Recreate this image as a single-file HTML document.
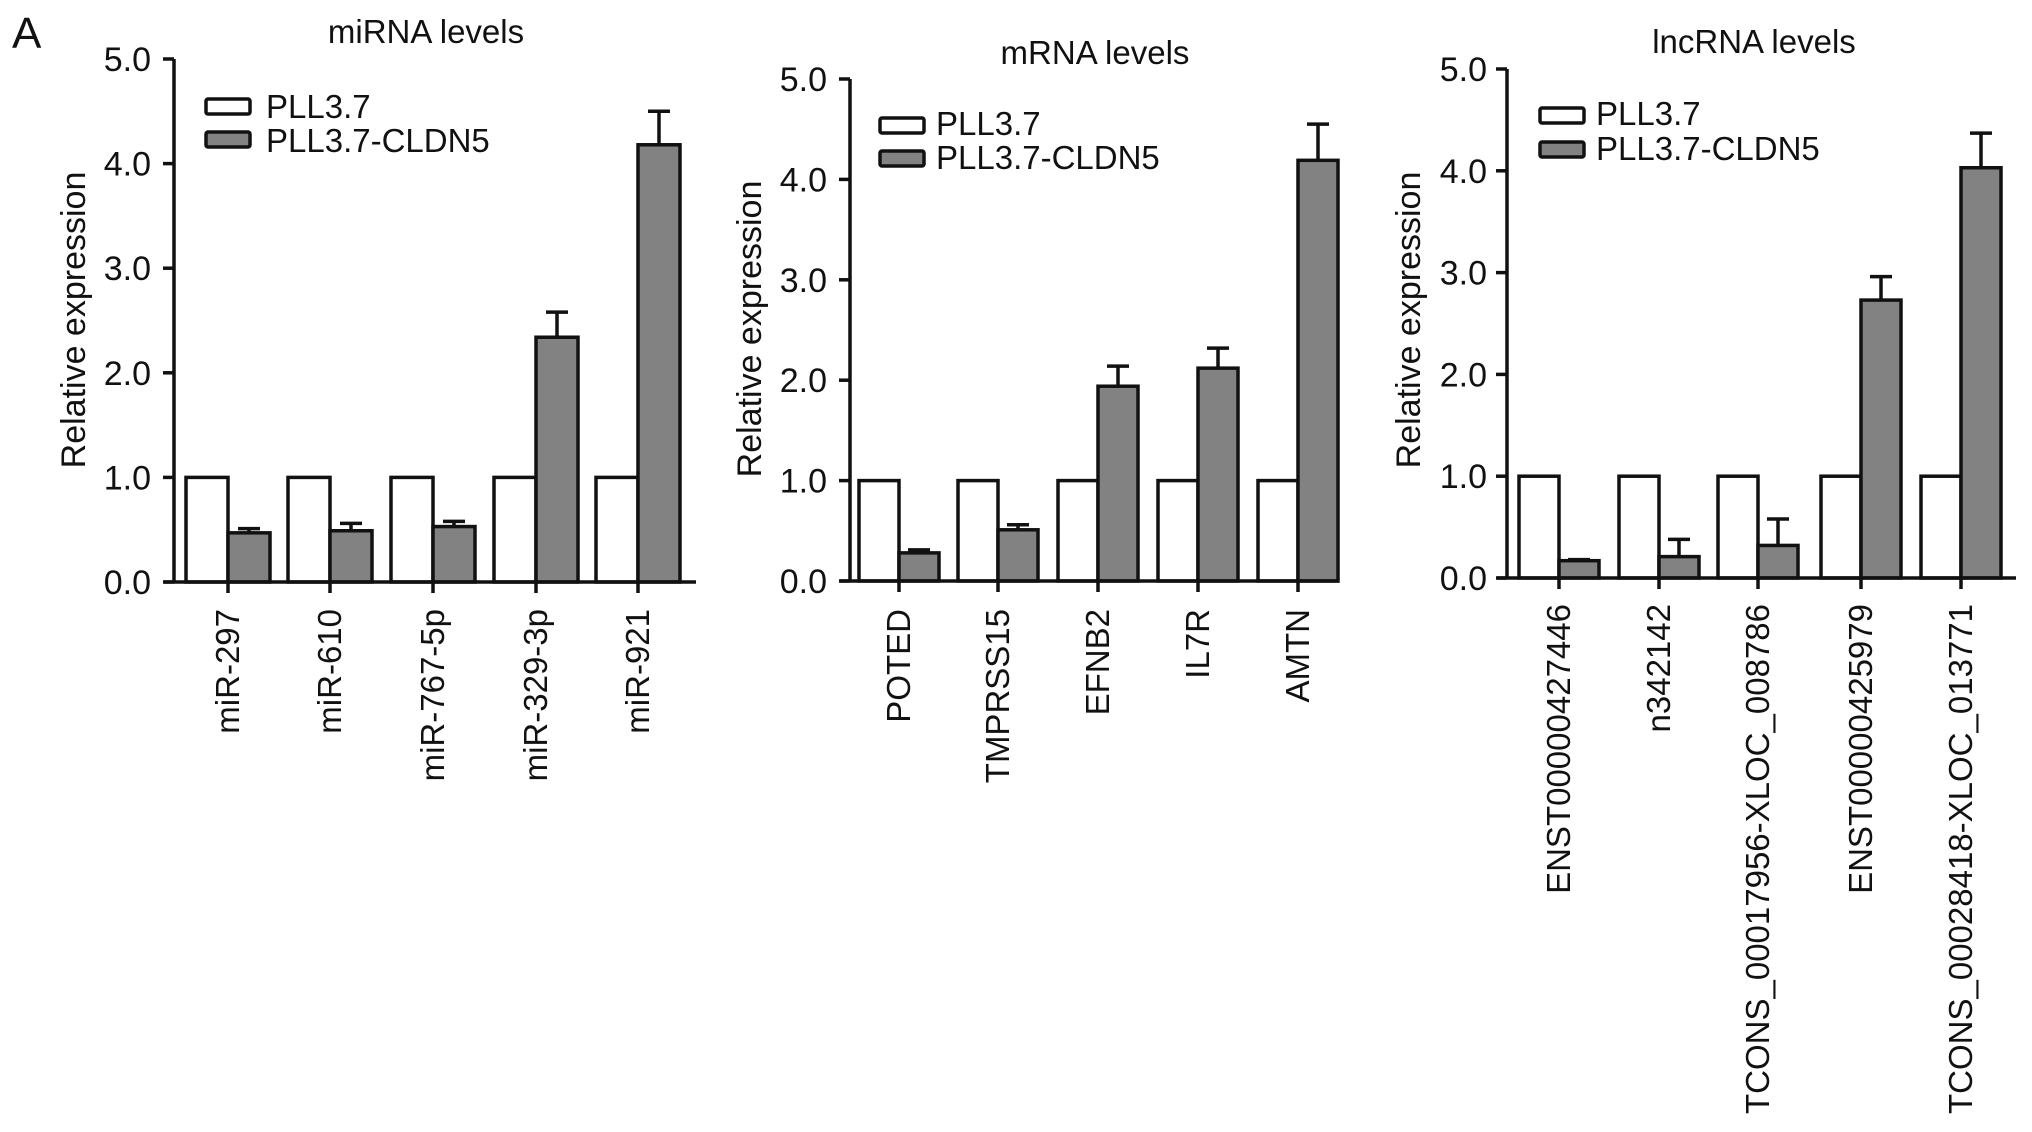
<!DOCTYPE html>
<html><head><meta charset="utf-8"><style>
html,body{margin:0;padding:0;background:#fff;}
svg{display:block;font-family:"Liberation Sans",Arial,sans-serif;}
</style></head>
<body>
<svg id="fig" width="2032" height="1132" viewBox="0 0 2032 1132" xmlns="http://www.w3.org/2000/svg">
<text x="12" y="48" font-size="44" fill="#111">A</text>
</svg>
<script>
const miCats = ["miR-297","miR-610","miR-767-5p","miR-329-3p","miR-921"];
const miCtrl = [1,1,1,1,1];
const miCldn = [0.47,0.49,0.53,2.34,4.18];
const miErr = [0.04,0.07,0.05,0.24,0.32];

const mCats = ["POTED","TMPRSS15","EFNB2","IL7R","AMTN"];
const mCtrl = [1,1,1,1,1];
const mCldn = [0.28,0.51,1.94,2.12,4.19];
const mErr = [0.03,0.05,0.2,0.2,0.36];

const lncCats = ["ENST00000427446","n342142","TCONS_00017956-XLOC_008786","ENST00000425979","TCONS_00028418-XLOC_013771"];
const lncCtrl = [1,1,1,1,1];
const lncCldn = [0.17,0.21,0.32,2.73,4.03];
const lncErr = [0.01,0.17,0.26,0.23,0.34];

const yTicks = [0,1,2,3,4,5];
const yTickLabels = ["0.0","1.0","2.0","3.0","4.0","5.0"];
const legendLabels = ["PLL3.7","PLL3.7-CLDN5"];

const NS="http://www.w3.org/2000/svg";
const svg=document.getElementById('fig');
function mk(tag,attrs,parent){const e=document.createElementNS(NS,tag);for(const k in attrs)e.setAttribute(k,attrs[k]);(parent||svg).appendChild(e);return e;}

const panels=[
 {key:"mirna",title:"miRNA levels",cats:miCats,ctrl:miCtrl,cldn:miCldn,err:miErr,
  ax:174,y0:582,y5:59,ticks:[228,330,433,536,638],axEnd:696,bw:42,titleX:426,titleY:43,
  legX:206,legY:[99,132],legTextX:266,legBase:[118,152],tickLabX:151,ytX:74,ytY:320,labTop:609},
 {key:"mrna",title:"mRNA levels",cats:mCats,ctrl:mCtrl,cldn:mCldn,err:mErr,
  ax:850,y0:581,y5:79,ticks:[899,998,1098,1198,1298],axEnd:1339,bw:40,titleX:1095,titleY:64,
  legX:880,legY:[118,151],legTextX:936,legBase:[135,169],tickLabX:827,ytX:750,ytY:329,labTop:609},
 {key:"lncrna",title:"lncRNA levels",cats:lncCats,ctrl:lncCtrl,cldn:lncCldn,err:lncErr,
  ax:1507,y0:578,y5:69,ticks:[1559,1659,1758,1861,1961],axEnd:2016,bw:40,titleX:1754,titleY:53,
  legX:1540,legY:[108,142],legTextX:1596,legBase:[125,160],tickLabX:1487,ytX:1409,ytY:320,labTop:604}
];

panels.forEach(p=>{
  const g=mk('g',{});
  
  
  const yS=v=>p.y0-(p.y0-p.y5)*v/5;
  const t=mk('text',{x:p.titleX,y:p.titleY,'font-size':33,'text-anchor':'middle',fill:'#111'},g);
  t.textContent=p.title;
  
  
  const yt=mk('text',{x:0,y:0,'font-size':34,'text-anchor':'middle',fill:'#111',transform:`translate(${p.ytX+11},${p.ytY}) rotate(-90)`},g);
  yt.textContent="Relative expression";
  
  
  p.cats.forEach((c,i)=>{
    const tx=p.ticks[i];
    const wb=mk('rect',{x:tx-p.bw,y:yS(p.ctrl[i]),width:p.bw,height:p.y0-yS(p.ctrl[i]),fill:'#fff',stroke:'#111','stroke-width':3.5},g);
    
    
    const top=yS(p.cldn[i]), et=yS(p.cldn[i]+p.err[i]);
    const el=mk('line',{x1:tx+p.bw/2,x2:tx+p.bw/2,y1:top,y2:et,stroke:'#111','stroke-width':3.5},g);
    
    
    const ec=mk('line',{x1:tx+p.bw/2-11,x2:tx+p.bw/2+11,y1:et,y2:et,stroke:'#111','stroke-width':3.5},g);
    
    
    const gb=mk('rect',{x:tx,y:top,width:p.bw,height:p.y0-top,fill:'#828282',stroke:'#111','stroke-width':3.5},g);
    
    
    const xt=mk('line',{x1:tx,x2:tx,y1:p.y0,y2:p.y0+11,stroke:'#111','stroke-width':3.5},g);
    
    
    const lb=mk('text',{x:0,y:0,'font-size':33,'text-anchor':'end',fill:'#111',transform:`translate(${tx+11},${p.labTop}) rotate(-90)`},g);
    lb.textContent=c;
    
    
  });
  const ya=mk('line',{x1:p.ax,x2:p.ax,y1:p.y5,y2:p.y0+1,stroke:'#111','stroke-width':3.5},g);
  
  
  const xa=mk('line',{x1:p.ax-10,x2:p.axEnd,y1:p.y0,y2:p.y0,stroke:'#111','stroke-width':3.5},g);
  
  
  yTicks.forEach((v,i)=>{
    const y=yS(v);
    const tk=mk('line',{x1:p.ax-11,x2:p.ax,y1:y,y2:y,stroke:'#111','stroke-width':3.5},g);
    
    
    const tl=mk('text',{x:p.tickLabX,y:y+12,'font-size':34,'text-anchor':'end',fill:'#111'},g);
    tl.textContent=yTickLabels[i];
    
    
  });
  legendLabels.forEach((l,i)=>{
    const r=mk('rect',{x:p.legX,y:p.legY[i],width:44,height:15,rx:2,fill:i?'#828282':'#fff',stroke:'#111','stroke-width':3.5},g);
    
    
    const tx=mk('text',{x:p.legTextX,y:p.legBase[i],'font-size':33,fill:'#111'},g);
    tx.textContent=l;
    
    
  });
});
</script>
</body></html>
